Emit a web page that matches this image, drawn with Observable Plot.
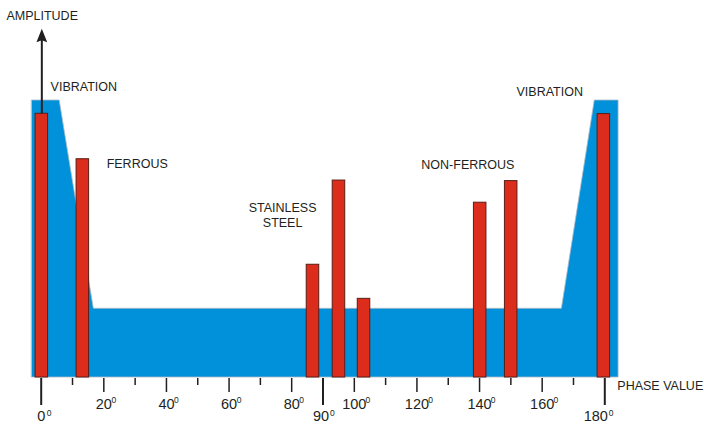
<!DOCTYPE html>
<html>
<head>
<meta charset="utf-8">
<script src="https://cdn.jsdelivr.net/npm/d3@7"></script>
<script src="https://cdn.jsdelivr.net/npm/@observablehq/plot@0.6"></script>
<style>
  html, body { margin: 0; padding: 0; background: #fff; }
  #chart svg { display: block; }
</style>
</head>
<body>
<div id="chart"></div>
<script>
// ---- data (phase in degrees, amplitude in arbitrary units) ----
const barPhase     = [0.2, 13.3, 86.8, 95.1, 103.1, 140.2, 150.1, 179.7];
const barAmplitude = [95.2, 78.8, 40.7, 71.1, 28.4, 63.1, 70.9, 95.1];

const envelopePhase     = [-2.9, 5.9, 16.8, 166.3, 176.8, 184.4];
const envelopeAmplitude = [100, 100, 24.8, 24.8, 100, 100];

const longTicks   = [0, 90, 180];
const mediumTicks = [20, 40, 60, 80, 100, 120, 140, 160];
const shortTicks  = [10, 30, 50, 70, 110, 130, 150, 170];

const labelText      = ["AMPLITUDE", "VIBRATION", "FERROUS", "NON-FERROUS", "VIBRATION", "PHASE VALUE"];
const labelPhase     = [-11.1, 3.0, 20.9, 121.4, 151.8, 184.0];
const labelAmplitude = [129.2, 103.6, 75.5, 75.1, 101.8, -4.4];

const centredText      = ["STAINLESS\nSTEEL"];
const centredPhase     = [77.1];
const centredAmplitude = [54.3];

const amplitudeArrowTop = 125.9;

// ---- derived tables ----
const bars = barPhase.map((p, i) => ({phase: p, amp: barAmplitude[i]}));
const envelope = envelopePhase.map((p, i) => ({phase: p, amp: envelopeAmplitude[i]}));
const labels = labelText.map((t, i) => ({text: t, phase: labelPhase[i], amp: labelAmplitude[i]}));
const centred = centredText.map((t, i) => ({text: t, phase: centredPhase[i], amp: centredAmplitude[i]}));

const ink = "#231f20";
const barHalfWidth = 2;
const font = "'Liberation Sans', Arial, Helvetica, sans-serif";

const arrowHead = {
  draw(ctx) {
    ctx.moveTo(0, 0);
    ctx.lineTo(5.4, 13.4);
    ctx.lineTo(0, 11.5);
    ctx.lineTo(-5.4, 13.4);
    ctx.closePath();
  }
};

function tickLabels(ticks, dyDigits, dxDigits, dxSup, dySup) {
  return [
    Plot.text(ticks, {x: d => d, text: d => String(d), frameAnchor: "bottom", lineAnchor: "top",
      textAnchor: "middle", dy: dyDigits, dx: dxDigits, fontSize: 14.5, fill: ink}),
    Plot.text(ticks, {x: d => d, text: () => "0", frameAnchor: "bottom", lineAnchor: "top",
      textAnchor: "start", dy: dySup, dx: dxSup, fontSize: 8.5, fill: ink})
  ];
}

const chart = Plot.plot({
  width: 704,
  height: 426,
  marginLeft: 0,
  marginRight: 0,
  marginTop: 100,
  marginBottom: 48,
  style: {fontFamily: font, background: "#fff", color: ink, overflow: "visible"},
  x: {domain: [0, 180], range: [40.7, 604.3]},
  y: {domain: [0, 100], range: [377, 100], axis: null},
  marks: [
    Plot.areaY(envelope, {x: "phase", y: "amp", fill: "#0091da", stroke: "#a8b8c4", strokeWidth: 0.8, curve: "linear"}),
    Plot.rect(bars, {x1: d => d.phase - barHalfWidth, x2: d => d.phase + barHalfWidth, y1: 0, y2: "amp",
      fill: "#dc2c1c", stroke: "#5a1d16", strokeWidth: 1}),
    Plot.ruleX([bars[0]], {x: "phase", y1: "amp", y2: () => amplitudeArrowTop - 4, stroke: ink, strokeWidth: 2}),
    Plot.dot([bars[0]], {x: "phase", y: () => amplitudeArrowTop, symbol: arrowHead, fill: ink, stroke: "none", r: 5}),
    Plot.axisX(longTicks, {tickSize: 27, strokeWidth: 2, stroke: ink, fill: "none", label: null}),
    Plot.axisX(mediumTicks, {tickSize: 14, strokeWidth: 1.5, stroke: ink, fill: "none", label: null}),
    Plot.axisX(shortTicks, {tickSize: 7, strokeWidth: 1.5, stroke: ink, fill: "none", label: null}),
    ...tickLabels([0], 32.7, 0, 5.6, 31.3),
    ...tickLabels([90], 32.7, -2, 7, 31.3),
    ...tickLabels([180], 32.7, -9, 4, 31.3),
    ...tickLabels([20, 40, 60, 80], 20.3, 0, 7.6, 18),
    ...tickLabels([100, 120, 140, 160], 20.3, 0, 11.3, 18),
    Plot.text(labels, {x: "phase", y: "amp", text: "text", textAnchor: "start", lineAnchor: "bottom",
      fontSize: 12.5, fill: ink}),
    Plot.text(centred, {x: "phase", y: "amp", text: "text", textAnchor: "middle", lineAnchor: "bottom",
      fontSize: 12.5, lineHeight: 1.2, fill: ink})
  ]
});

document.getElementById("chart").appendChild(chart);
</script>
</body>
</html>
